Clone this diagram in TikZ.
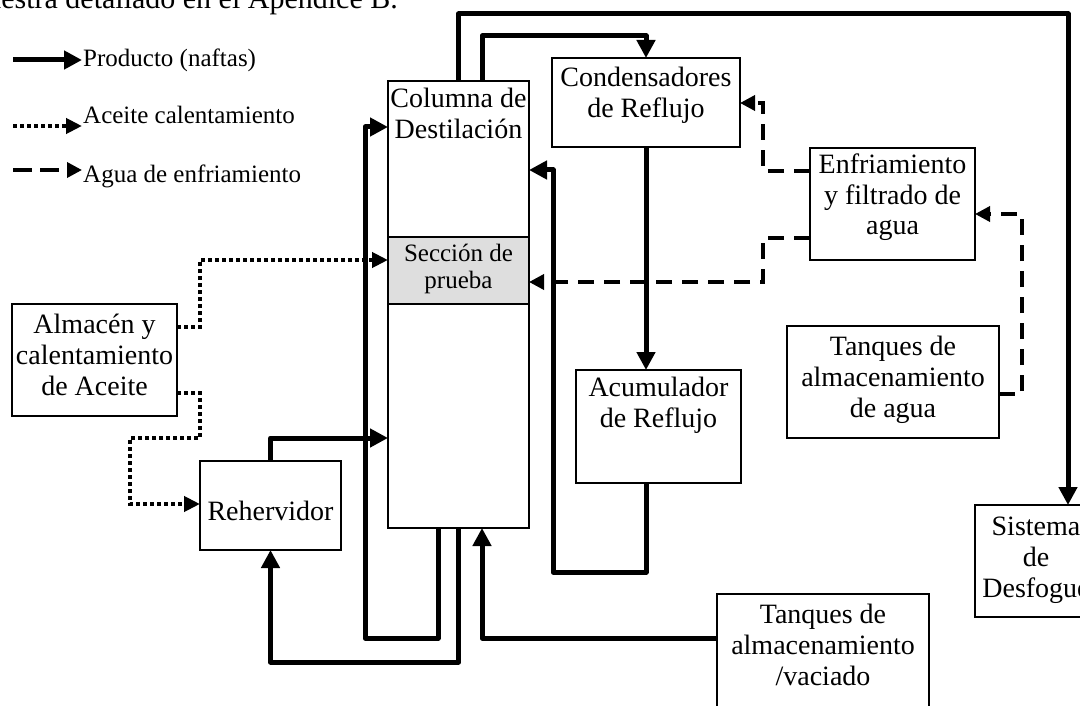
\documentclass[tikz,border=0pt]{standalone}
\usepackage{fontspec}
\setmainfont{Liberation Serif}
\usetikzlibrary{arrows.meta}
\begin{document}
\begin{tikzpicture}[x=1pt,y=-1pt,
  box/.style={draw, line width=1.5pt, fill=white, inner sep=0pt, outer sep=0pt},
  lbl/.style={font=\fontsize{28}{31}\selectfont, align=center, inner sep=0pt, anchor=base},
  lblsm/.style={font=\fontsize{25}{27}\selectfont, align=center, inner sep=0pt, anchor=base},
  prod/.style={line width=5pt, line join=round, -{Triangle[length=18pt,width=18pt]}},
  oil/.style={line width=4pt, dash pattern=on 4pt off 3pt, -{Triangle[length=16pt,width=15pt]}},
  water/.style={line width=3.5pt, dash pattern=on 16pt off 10pt, -{Triangle[length=15pt,width=15pt]}},
]
\useasboundingbox (0,0) rectangle (1080,706);

% running text line above the figure
\node[lbl, font=\fontsize{30}{33}\selectfont, anchor=base east] (topt) at (398,9) {muestra detallado en el Apéndice B.};

% equipment blocks (multi-line labels are placed by the baseline of their last line)
\node[box, minimum width=141pt, minimum height=447pt] (col) at (458.5,304.5) {};
\node[box, fill=black!13, minimum width=141pt, minimum height=67pt] (sec) at (458.5,270.5) {};
\node[lbl] (colt) at (458.5,139) {Columna de\\Destilación};
\node[lblsm] (sect) at (458.5,288) {Sección de\\prueba};

\node[box, minimum width=188pt, minimum height=89pt] (cond) at (646,102.5) {};
\node[lbl] (condt) at (646,118) {Condensadores\\de Reflujo};

\node[box, minimum width=165pt, minimum height=113pt] (acum) at (658.5,426.5) {};
\node[lbl] (acumt) at (658.5,427) {Acumulador\\de Reflujo};

\node[box, minimum width=165pt, minimum height=112pt] (enf) at (892.5,204) {};
\node[lbl] (enft) at (892.5,235) {Enfriamiento\\y filtrado de\\agua};

\node[box, minimum width=212pt, minimum height=112pt] (tag) at (893,382) {};
\node[lbl] (tagt) at (893,417) {Tanques de\\almacenamiento\\de agua};

\node[box, minimum width=122pt, minimum height=112pt] (sis) at (1036,561) {};
\node[lbl] (sist) at (1036,597) {Sistema\\de\\Desfogue};

\node[box, minimum width=165pt, minimum height=112pt] (alm) at (94.5,360) {};
\node[lbl] (almt) at (94.5,395) {Almacén y\\calentamiento\\de Aceite};

\node[box, minimum width=141pt, minimum height=89pt] (reh) at (270.5,505.5) {};
\node[lbl] (reht) at (270.5,520) {Rehervidor};

\node[box, minimum width=212pt, minimum height=136pt] (tva) at (823,662) {};
\node[lbl] (tvat) at (823,685) {Tanques de\\almacenamiento\\/vaciado};

% product lines
\draw[prod] (col.north) -- ++(0,-67) -| ([xshift=32pt]sis.north);
\draw[prod] ([xshift=23.5pt]col.north) -- ++(0,-45) -| (cond.north);
\draw[prod] (cond.south) -- (cond.south |- acum.north);
\draw[prod] (cond.south |- acum.south) -- ++(0,89) -- ++(-93,0) |- ([yshift=134.5pt]col.east);
\draw[prod] ([xshift=-20.5pt]col.south) -- ++(0,110) -- ++(-73,0) |- ([yshift=177.5pt]col.west);
\draw[prod] (col.south) -- ++(0,134) -| (reh.south);
\draw[prod] (reh.north) |- ([yshift=-133.5pt]col.west);
\draw[prod] ([yshift=24pt]tva.west) -| ([xshift=23.5pt]col.south);

% cooling water lines
\draw[water] ([yshift=33pt]enf.west) -- ++(-47,0) |- ([yshift=-0.5pt]cond.east);
\draw[water] ([yshift=-34pt]enf.west) -- ++(-47,0) |- ([yshift=-11.5pt]sec.east);
\draw[water] ([yshift=-12pt]tag.east) -- ++(23,0) |- ([yshift=-10pt]enf.east);

% heating oil lines
\draw[oil] ([yshift=33pt]alm.east) -- ++(23,0) |- ([yshift=10.5pt]sec.west);
\draw[oil] ([yshift=-33pt]alm.east) -- ++(23,0) -- ++(0,45) -- ++(-70,0) |- ([yshift=1.5pt]reh.west);

% legend
\coordinate (l1a) at (13,60);  \coordinate (l1b) at (82,60);
\coordinate (l2a) at (13,126); \coordinate (l2b) at (82,126);
\coordinate (l3a) at (13,170); \coordinate (l3b) at (82,170);
\draw[prod] (l1a) -- (l1b);
\draw[oil] (l2a) -- (l2b);
\draw[water, dash pattern=on 19pt off 8pt] (l3a) -- (l3b);
\node[lblsm, anchor=base west] (l1t) at (83,67) {Producto (naftas)};
\node[lblsm, anchor=base west] (l2t) at (83,124) {Aceite calentamiento};
\node[lblsm, anchor=base west] (l3t) at (83,183) {Agua de enfriamiento};
\end{tikzpicture}
\end{document}
